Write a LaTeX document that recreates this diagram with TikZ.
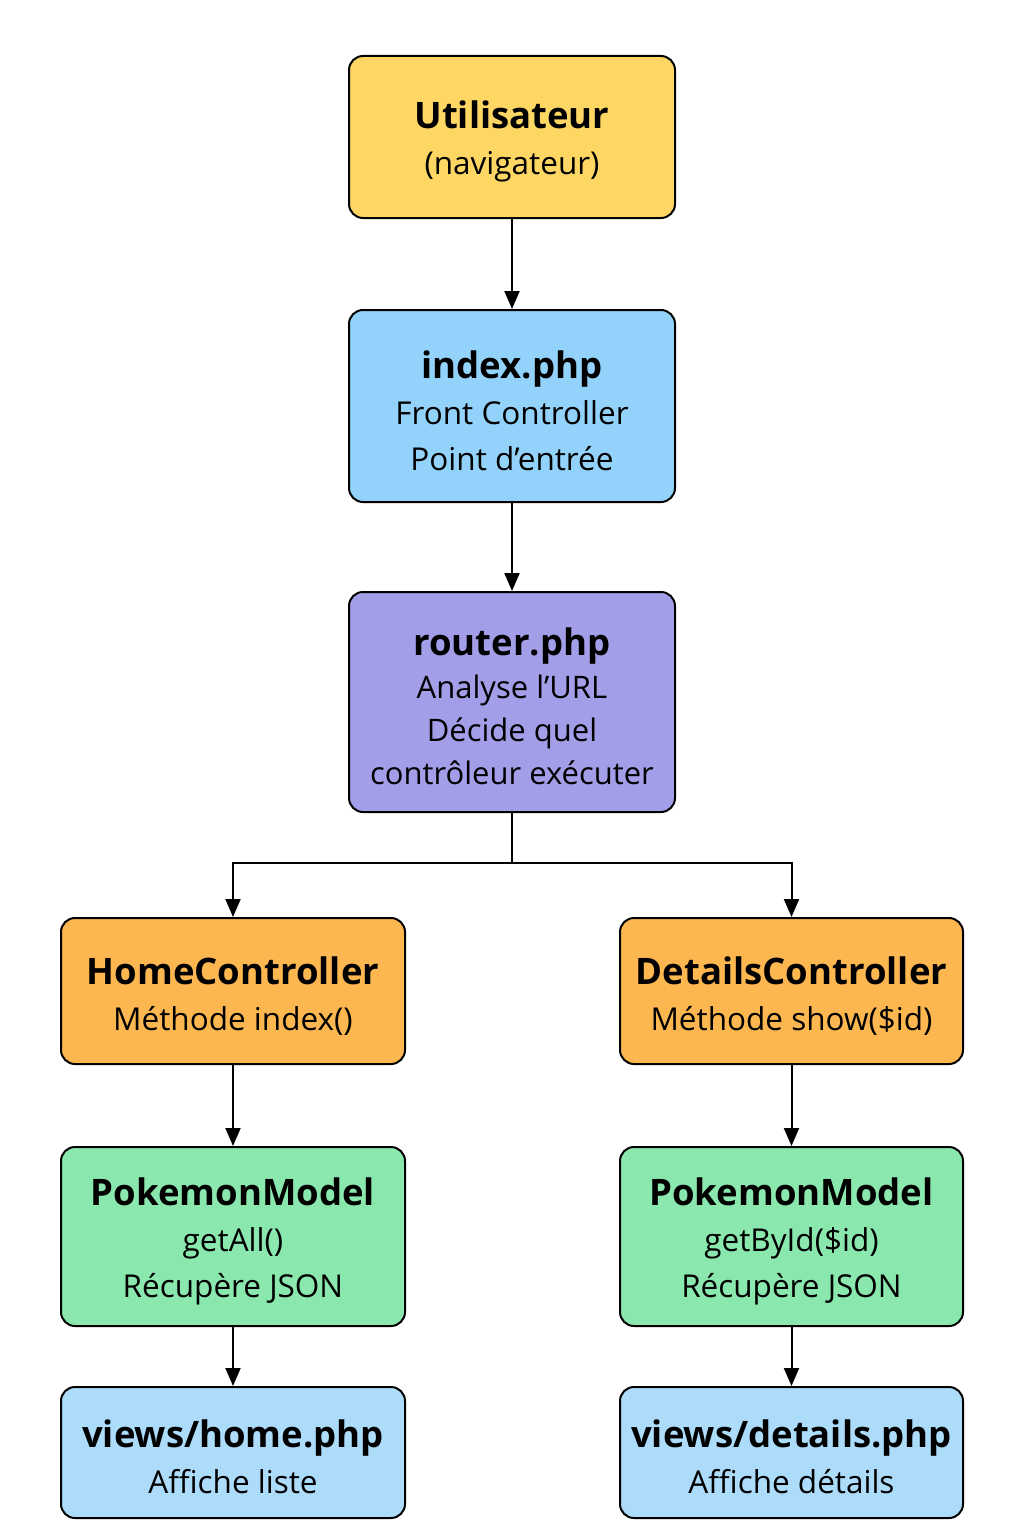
\documentclass[tikz,border=0pt]{standalone}
\usepackage{fontspec}
\setmainfont{Open Sans}
\usetikzlibrary{arrows.meta}
\definecolor{cyellow}{HTML}{FDD663}
\definecolor{cblue}{HTML}{93D3FB}
\definecolor{cpurple}{HTML}{A39EE8}
\definecolor{corange}{HTML}{FDB750}
\definecolor{cgreen}{HTML}{8AE8AE}
\definecolor{clblue}{HTML}{ADDCFB}
\tikzset{
  boxstyle/.style={draw=black, line width=2pt, rounded corners=14pt, align=center,
    inner sep=0pt, font=\fontsize{31.5}{46}\selectfont},
  conn/.style={line width=2pt, -{Triangle[length=18pt,width=15pt]}},
}
\newcommand{\ttl}[1]{{\fontsize{36.5}{46}\selectfont\bfseries\rule{0pt}{37pt}#1}}
\begin{document}
\begin{tikzpicture}[x=1pt,y=-1pt]
\useasboundingbox (0,0) rectangle (1024,1536);
\node[boxstyle, fill=cyellow, minimum width=326pt, minimum height=162pt] (user) at (512,137)
  {\ttl{Utilisateur}\\(navigateur)};
\node[boxstyle, fill=cblue, minimum width=326pt, minimum height=192pt] (index) at (512,406)
  {\ttl{index.php}\\Front Controller\\Point d’entrée};
\node[boxstyle, fill=cpurple, minimum width=326pt, minimum height=220pt, font=\fontsize{31}{43}\selectfont] (router) at (512,702)
  {\ttl{router.php}\\Analyse l’URL\\Décide quel\\contrôleur exécuter};
\node[boxstyle, fill=corange, minimum width=344pt, minimum height=146pt] (home) at (233,991)
  {\ttl{HomeController}\\Méthode index()};
\node[boxstyle, fill=corange, minimum width=343pt, minimum height=146pt] (details) at (791.5,991)
  {\ttl{DetailsController}\\Méthode show(\$id)};
\node[boxstyle, fill=cgreen, minimum width=344pt, minimum height=179pt] (pml) at (233,1236.5)
  {\ttl{PokemonModel}\\getAll()\\Récupère JSON};
\node[boxstyle, fill=cgreen, minimum width=343pt, minimum height=179pt] (pmr) at (791.5,1236.5)
  {\ttl{PokemonModel}\\getById(\$id)\\Récupère JSON};
\node[boxstyle, fill=clblue, minimum width=344pt, minimum height=131pt] (vh) at (233,1452.5)
  {\ttl{views/home.php}\\Affiche liste};
\node[boxstyle, fill=clblue, minimum width=343pt, minimum height=131pt] (vd) at (791.5,1452.5)
  {\ttl{views/details.php}\\Affiche détails};
\coordinate (junc) at (512,863);
\draw[conn] (user) -- (index);
\draw[conn] (index) -- (router);
\draw[line width=2pt] (router.south) -- (junc);
\draw[conn] (junc) -| (home.north);
\draw[conn] (junc) -| (details.north);
\draw[conn] (home) -- (pml);
\draw[conn] (details) -- (pmr);
\draw[conn] (pml) -- (vh);
\draw[conn] (pmr) -- (vd);
\end{tikzpicture}
\end{document}
